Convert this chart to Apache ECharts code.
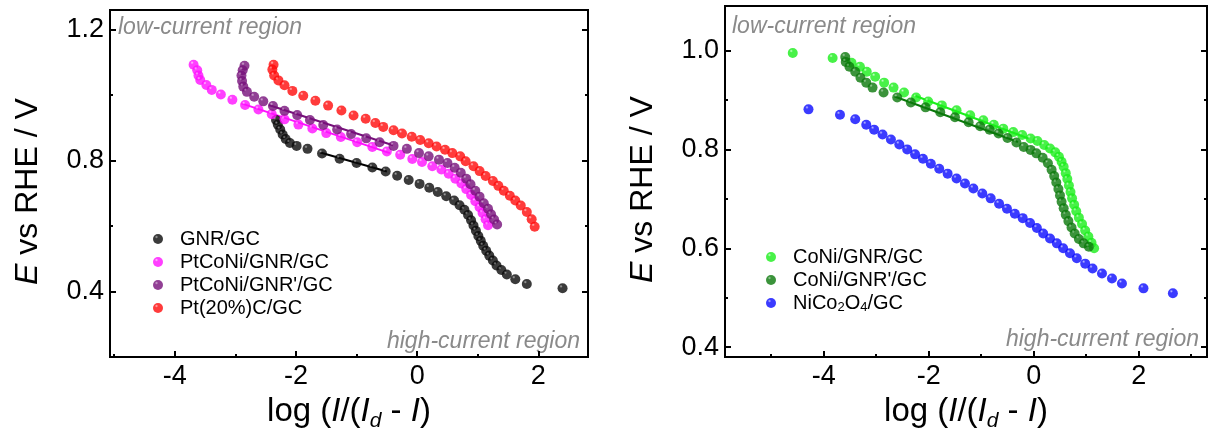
<!DOCTYPE html>
<html>
<head>
<meta charset="utf-8">
<script src="https://cdn.jsdelivr.net/npm/echarts@6/dist/echarts.min.js"></script>
<style>
  html, body { margin: 0; padding: 0; background: #fff; }
  #root { width: 1213px; height: 437px; }
</style>
</head>
<body>
<div id="root"></div>
<script>
// ---------- left panel data ----------
const gnrX = [-2.33, -2.30, -2.26, -2.22, -2.17, -2.10, -1.99, -1.81, -1.57, -1.28, -1.00, -0.74, -0.52, -0.33, -0.14, 0.04, 0.20, 0.34, 0.48, 0.61, 0.70, 0.78, 0.84, 0.89, 0.93, 0.97, 1.01, 1.05, 1.09, 1.14, 1.19, 1.25, 1.31, 1.39, 1.48, 1.62, 1.81, 2.40];
const gnrY = [0.924, 0.910, 0.895, 0.880, 0.866, 0.854, 0.845, 0.836, 0.822, 0.806, 0.793, 0.779, 0.767, 0.754, 0.741, 0.729, 0.717, 0.704, 0.691, 0.678, 0.664, 0.650, 0.634, 0.618, 0.602, 0.586, 0.570, 0.555, 0.540, 0.525, 0.510, 0.495, 0.480, 0.466, 0.452, 0.438, 0.423, 0.410];

const ptGnrX = [-3.69, -3.63, -3.61, -3.58, -3.48, -3.39, -3.24, -3.05, -2.84, -2.62, -2.40, -2.19, -1.96, -1.73, -1.50, -1.26, -0.99, -0.74, -0.50, -0.28, -0.08, 0.08, 0.25, 0.40, 0.52, 0.63, 0.73, 0.81, 0.89, 0.96, 1.03, 1.08, 1.13, 1.17];
const ptGnrY = [1.093, 1.076, 1.060, 1.046, 1.031, 1.016, 1.002, 0.986, 0.970, 0.956, 0.942, 0.926, 0.910, 0.898, 0.884, 0.872, 0.856, 0.842, 0.828, 0.818, 0.805, 0.796, 0.783, 0.773, 0.760, 0.745, 0.730, 0.713, 0.695, 0.676, 0.658, 0.640, 0.621, 0.603];

const ptGnr2X = [-2.85, -2.88, -2.90, -2.89, -2.87, -2.81, -2.69, -2.54, -2.38, -2.19, -1.98, -1.77, -1.55, -1.32, -1.09, -0.84, -0.62, -0.39, -0.17, 0.03, 0.19, 0.36, 0.50, 0.62, 0.72, 0.81, 0.88, 0.96, 1.03, 1.10, 1.17, 1.22, 1.27, 1.32];
const ptGnr2Y = [1.090, 1.076, 1.060, 1.043, 1.026, 1.010, 0.995, 0.981, 0.967, 0.952, 0.939, 0.924, 0.909, 0.895, 0.881, 0.868, 0.856, 0.845, 0.836, 0.823, 0.813, 0.803, 0.793, 0.778, 0.763, 0.745, 0.728, 0.708, 0.690, 0.670, 0.653, 0.636, 0.620, 0.605];

const ptcX = [-2.37, -2.39, -2.36, -2.29, -2.19, -2.06, -1.88, -1.68, -1.47, -1.25, -1.05, -0.85, -0.69, -0.56, -0.39, -0.25, -0.09, 0.05, 0.19, 0.32, 0.46, 0.58, 0.71, 0.80, 0.93, 1.03, 1.13, 1.25, 1.34, 1.43, 1.53, 1.62, 1.71, 1.81, 1.89, 1.94];
const ptcY = [1.093, 1.078, 1.060, 1.045, 1.030, 1.013, 0.998, 0.983, 0.968, 0.953, 0.938, 0.928, 0.915, 0.903, 0.893, 0.883, 0.873, 0.863, 0.853, 0.843, 0.833, 0.823, 0.813, 0.798, 0.783, 0.768, 0.753, 0.738, 0.723, 0.708, 0.693, 0.678, 0.663, 0.643, 0.621, 0.598];

// Tafel fit segments (end points)
const gnrFit = [[-1.6, 0.825], [-0.5, 0.767]];
const ptGnrFit = [[-2.9, 0.975], [-0.45, 0.823]];
const ptGnr2Fit = [[-2.45, 0.970], [-0.4, 0.847]];

// ---------- right panel data ----------
const coniX = [-4.59, -3.83, -3.47, -3.31, -3.18, -3.02, -2.85, -2.67, -2.47, -2.24, -2.01, -1.75, -1.47, -1.21, -0.96, -0.76, -0.58, -0.39, -0.22, -0.06, 0.07, 0.20, 0.31, 0.41, 0.48, 0.53, 0.57, 0.61, 0.64, 0.67, 0.70, 0.73, 0.77, 0.81, 0.86, 0.92, 0.98, 1.04, 1.10, 1.15];
const coniY = [0.995, 0.985, 0.975, 0.967, 0.957, 0.947, 0.935, 0.925, 0.915, 0.905, 0.897, 0.889, 0.879, 0.869, 0.859, 0.850, 0.842, 0.835, 0.829, 0.822, 0.817, 0.809, 0.802, 0.794, 0.785, 0.775, 0.765, 0.752, 0.740, 0.727, 0.714, 0.701, 0.688, 0.675, 0.662, 0.649, 0.636, 0.624, 0.611, 0.600];

const coni2X = [-3.59, -3.58, -3.51, -3.40, -3.30, -3.19, -3.07, -2.86, -2.60, -2.34, -2.06, -1.78, -1.50, -1.24, -1.02, -0.84, -0.67, -0.50, -0.33, -0.19, -0.06, 0.05, 0.17, 0.27, 0.34, 0.39, 0.43, 0.47, 0.50, 0.53, 0.57, 0.61, 0.66, 0.72, 0.78, 0.86, 0.95, 1.05];
const coni2Y = [0.987, 0.977, 0.967, 0.957, 0.945, 0.935, 0.925, 0.915, 0.905, 0.895, 0.885, 0.875, 0.865, 0.855, 0.847, 0.840, 0.832, 0.823, 0.814, 0.805, 0.799, 0.792, 0.783, 0.772, 0.759, 0.746, 0.733, 0.720, 0.707, 0.694, 0.681, 0.668, 0.655, 0.642, 0.630, 0.619, 0.610, 0.603];

const nicoX = [-4.29, -3.69, -3.40, -3.19, -3.04, -2.88, -2.72, -2.56, -2.41, -2.26, -2.11, -1.96, -1.80, -1.64, -1.47, -1.31, -1.15, -0.98, -0.82, -0.66, -0.51, -0.36, -0.21, -0.07, 0.06, 0.18, 0.31, 0.44, 0.56, 0.69, 0.82, 0.98, 1.12, 1.30, 1.49, 1.68, 2.09, 2.65];
const nicoY = [0.881, 0.870, 0.861, 0.850, 0.840, 0.830, 0.820, 0.810, 0.800, 0.790, 0.781, 0.771, 0.761, 0.751, 0.741, 0.731, 0.721, 0.711, 0.701, 0.690, 0.680, 0.670, 0.661, 0.651, 0.641, 0.630, 0.620, 0.610, 0.600, 0.590, 0.580, 0.569, 0.559, 0.549, 0.539, 0.529, 0.519, 0.509];

const coniFit = [[-2.3, 0.910], [-0.1, 0.822]];
const coni2Fit = [[-2.65, 0.907], [-0.3, 0.815]];

// ---------- axis ranges / ticks ----------
const leftXRange = [-5.07, 2.82];
const leftYRange = [0.2, 1.26];
const rightXRange = [-5.88, 3.3];
const rightYRange = [0.38, 1.09];
const leftXMajor = [-4, -2, 0, 2];
const leftXMinor = [-5, -3, -1, 1];
const leftYMajor = [0.4, 0.8, 1.2];
const leftYMinor = [0.6, 1.0];
const rightXMajor = [-4, -2, 0, 2];
const rightXMinor = [-5, -3, -1, 1, 3];
const rightYMajor = [0.4, 0.6, 0.8, 1.0];
const rightYMinor = [0.5, 0.7, 0.9];

const leftNames = ['GNR/GC', 'PtCoNi/GNR/GC', "PtCoNi/GNR'/GC", 'Pt(20%)C/GC'];
const rightNames = ['CoNi/GNR/GC', "CoNi/GNR'/GC", 'NiCo2O4/GC'];

const FONT = '"Liberation Sans", Arial, sans-serif';
const container = document.getElementById('root');
const myChart = echarts.init(container);

const zip = (xs, ys) => xs.map((x, i) => [x, ys[i]]);

// shaded ball look of the markers
const ball = (base, light) => new echarts.graphic.RadialGradient(0.35, 0.3, 0.75, [
  { offset: 0, color: light },
  { offset: 0.22, color: base },
  { offset: 1, color: base }
]);

const scatter = (name, xs, ys, base, light, right) => ({
  name,
  type: 'scatter',
  xAxisIndex: right ? 2 : 0,
  yAxisIndex: right ? 4 : 0,
  data: zip(xs, ys),
  symbolSize: 10,
  itemStyle: { color: ball(base, light) },
  z: 3
});

const fit = (pts, color, right) => ({
  type: 'line',
  xAxisIndex: right ? 2 : 0,
  yAxisIndex: right ? 4 : 0,
  data: pts,
  symbol: 'none',
  silent: true,
  lineStyle: { color, width: 2 },
  z: 2
});

const tickStyle = { color: '#000', width: 2 };
const noLine = { show: false, onZero: false };
const titleStyle = { fontSize: 33, fontFamily: FONT, color: '#000' };

const xTitle = '{t|log (}{i|I}{t|/(}{i|I}{d|d}{t| - }{i|I}{t|)}';
const yTitle = '{i|E}{t| vs RHE / V}';

const xAxes = (grid, range, major, minor) => [{
  type: 'value', gridIndex: grid, min: range[0], max: range[1], position: 'bottom',
  axisLine: noLine, splitLine: { show: false },
  axisTick: { inside: true, length: 6, customValues: major, lineStyle: tickStyle },
  axisLabel: { customValues: major, fontSize: 27, fontFamily: FONT, color: '#000', margin: 6 },
  name: xTitle, nameLocation: 'middle', nameGap: 27,
  nameTextStyle: {
    ...titleStyle,
    rich: {
      t: { ...titleStyle },
      i: { ...titleStyle, fontStyle: 'italic' },
      d: { fontSize: 21, fontFamily: FONT, color: '#000', fontStyle: 'italic', verticalAlign: 'bottom', padding: [20, 0, 0, 0] }
    }
  }
}, {
  type: 'value', gridIndex: grid, min: range[0], max: range[1], position: 'bottom',
  axisLine: noLine, splitLine: { show: false }, axisLabel: { show: false },
  axisTick: { inside: true, length: 3, customValues: minor, lineStyle: tickStyle }
}];

const yAxes = (grid, range, major, minor) => [{
  type: 'value', gridIndex: grid, min: range[0], max: range[1], position: 'left',
  axisLine: noLine, splitLine: { show: false },
  axisTick: { inside: true, length: 6, customValues: major, lineStyle: tickStyle },
  axisLabel: { customValues: major, fontSize: 27, fontFamily: FONT, color: '#000', margin: 6, formatter: v => v.toFixed(1) },
  name: yTitle, nameLocation: 'middle', nameGap: 66,
  nameTextStyle: {
    ...titleStyle, fontSize: 32, padding: [0, 16, 0, 0],
    rich: {
      t: { ...titleStyle, fontSize: 32 },
      i: { ...titleStyle, fontSize: 32, fontStyle: 'italic' }
    }
  }
}, {
  type: 'value', gridIndex: grid, min: range[0], max: range[1], position: 'left',
  axisLine: noLine, splitLine: { show: false }, axisLabel: { show: false },
  axisTick: { inside: true, length: 3, customValues: minor, lineStyle: tickStyle }
}, {
  type: 'value', gridIndex: grid, min: range[0], max: range[1], position: 'right',
  axisLine: noLine, splitLine: { show: false }, axisLabel: { show: false },
  axisTick: { inside: true, length: 6, customValues: major, lineStyle: tickStyle }
}, {
  type: 'value', gridIndex: grid, min: range[0], max: range[1], position: 'right',
  axisLine: noLine, splitLine: { show: false }, axisLabel: { show: false },
  axisTick: { inside: true, length: 3, customValues: minor, lineStyle: tickStyle }
}];

const legendText = { fontSize: 20, fontFamily: FONT, color: '#000', padding: [0, 0, 0, 12] };
const noteFont = 'italic 23px "Liberation Sans", Arial, sans-serif';
const noteColor = '#8a8a8a';

const option = {
  animation: false,
  backgroundColor: '#fff',
  grid: [
    { left: 110, top: 10, width: 478, height: 351, show: true, borderColor: '#000', borderWidth: 2 },
    { left: 725, top: 6, width: 482, height: 355, show: true, borderColor: '#000', borderWidth: 2 }
  ],
  xAxis: [
    ...xAxes(0, leftXRange, leftXMajor, leftXMinor),
    ...xAxes(1, rightXRange, rightXMajor, rightXMinor)
  ],
  yAxis: [
    ...yAxes(0, leftYRange, leftYMajor, leftYMinor),
    ...yAxes(1, rightYRange, rightYMajor, rightYMinor)
  ],
  legend: [{
    data: leftNames,
    orient: 'vertical', left: 148, top: 224,
    icon: 'circle', itemWidth: 10, itemHeight: 10, itemGap: 3,
    textStyle: legendText
  }, {
    data: rightNames,
    orient: 'vertical', left: 761, top: 242,
    icon: 'circle', itemWidth: 10, itemHeight: 10, itemGap: 3,
    formatter: name => name === 'NiCo2O4/GC' ? '{a|NiCo}{s|2}{a|O}{s|4}{a|/GC}' : name,
    textStyle: {
      ...legendText,
      rich: {
        a: { fontSize: 20, fontFamily: FONT, color: '#000' },
        s: { fontSize: 13, fontFamily: FONT, color: '#000', verticalAlign: 'bottom', padding: [8, 0, 0, 0] }
      }
    }
  }],
  graphic: [
    { type: 'text', left: 118, top: 16, style: { text: 'low-current region', font: noteFont, fill: noteColor } },
    { type: 'text', right: 633, top: 330, style: { text: 'high-current region', font: noteFont, fill: noteColor } },
    { type: 'text', left: 732, top: 15, style: { text: 'low-current region', font: noteFont, fill: noteColor } },
    { type: 'text', right: 14, top: 328, style: { text: 'high-current region', font: noteFont, fill: noteColor } }
  ],
  series: [
    scatter(leftNames[0], gnrX, gnrY, '#0a0a0a', '#9a9a9a', false),
    scatter(leftNames[1], ptGnrX, ptGnrY, '#ff10ff', '#ffc0ff', false),
    scatter(leftNames[2], ptGnr2X, ptGnr2Y, '#76107a', '#c99bc9', false),
    scatter(leftNames[3], ptcX, ptcY, '#ff0a0a', '#ffb0b0', false),
    fit(gnrFit, '#000000', false),
    fit(ptGnrFit, '#ff10ff', false),
    fit(ptGnr2Fit, '#76107a', false),
    scatter(rightNames[0], coniX, coniY, '#1aee1a', '#c0ffc0', true),
    scatter(rightNames[1], coni2X, coni2Y, '#0a780a', '#95c895', true),
    scatter(rightNames[2], nicoX, nicoY, '#0a0aff', '#b0b0ff', true),
    fit(coniFit, '#1aee1a', true),
    fit(coni2Fit, '#0a780a', true)
  ]
};

myChart.setOption(option);

window.onresize = () => myChart.resize();
</script>
</body>
</html>
